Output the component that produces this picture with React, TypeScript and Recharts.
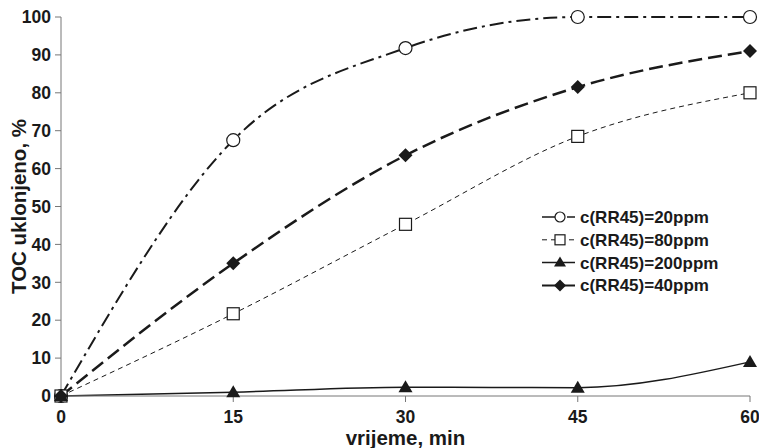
import React from 'react';
import { LineChart, Line, XAxis, YAxis } from 'recharts';

const times = [0, 15, 30, 45, 60];
const ppm20 = [0, 67.5, 91.8, 100, 100];
const ppm80 = [0, 21.7, 45.3, 68.5, 80];
const ppm200 = [0, 1.0, 2.3, 2.2, 9.0];
const ppm40 = [0, 35, 63.5, 81.5, 91];
const yTicks = [0, 10, 20, 30, 40, 50, 60, 70, 80, 90, 100];
const xTicks = [0, 15, 30, 45, 60];

const data = times.map((t, i) => ({ t, a: ppm20[i], b: ppm80[i], c: ppm200[i], d: ppm40[i] }));

const INK = '#1a1a1a';
const AXIS = '#777';
const FONT = 'Liberation Sans, Arial, sans-serif';

const Circle = (p: any) => <circle key={p.index} cx={p.cx} cy={p.cy} r={6.5} fill="#fff" stroke={INK} strokeWidth={1.2} />;
const Square = (p: any) => <rect key={p.index} x={p.cx - 6} y={p.cy - 6} width={12} height={12} fill="#fff" stroke={INK} strokeWidth={1.2} />;
const Tri = (p: any) => <path key={p.index} d={`M${p.cx},${p.cy - 7} L${p.cx + 7},${p.cy + 5} L${p.cx - 7},${p.cy + 5} Z`} fill={INK} />;
const Diamond = (p: any) => <path key={p.index} d={`M${p.cx},${p.cy - 7} L${p.cx + 7},${p.cy} L${p.cx},${p.cy + 7} L${p.cx - 7},${p.cy} Z`} fill={INK} />;

const legendItems = [
  { label: 'c(RR45)=20ppm', dash: '14 4 3 4', w: 1.5, m: 'circle' },
  { label: 'c(RR45)=80ppm', dash: '5 4', w: 1, m: 'square' },
  { label: 'c(RR45)=200ppm', dash: undefined, w: 1.5, m: 'tri' },
  { label: 'c(RR45)=40ppm', dash: undefined, w: 2, m: 'diamond' },
];

const LegendBox = () => (
  <svg width={215} height={100} style={{ position: 'absolute', left: 538, top: 205 }}>
    {legendItems.map((it, i) => {
      const y = 12 + i * 22.8;
      const cx = 22;
      return (
        <g key={i}>
          <line x1={4} x2={37} y1={y} y2={y} stroke={INK} strokeWidth={it.w} strokeDasharray={it.dash} />
          {it.m === 'circle' && <circle cx={cx} cy={y} r={5} fill="#fff" stroke={INK} strokeWidth={1.2} />}
          {it.m === 'square' && <rect x={cx - 5} y={y - 5} width={10} height={10} fill="#fff" stroke={INK} strokeWidth={1.2} />}
          {it.m === 'tri' && <path d={`M${cx},${y - 6} L${cx + 6},${y + 4} L${cx - 6},${y + 4} Z`} fill={INK} />}
          {it.m === 'diamond' && <path d={`M${cx},${y - 6} L${cx + 6},${y} L${cx},${y + 6} L${cx - 6},${y} Z`} fill={INK} />}
          <text x={42} y={y + 6} fontFamily={FONT} fontWeight="bold" fontSize={17} fill={INK}>{it.label}</text>
        </g>
      );
    })}
  </svg>
);

export default function App() {
  return (
    <div style={{ position: 'absolute', left: 0, top: 0, width: 759, height: 448, background: '#fff' }}>
      <LineChart width={759} height={448} data={data} margin={{ top: 17, right: 9, bottom: 0, left: 0 }}>
        <XAxis dataKey="t" type="number" domain={[0, 60]} ticks={xTicks} stroke={AXIS} tickSize={6} tickMargin={9}
          tick={{ fill: INK, fontFamily: FONT, fontWeight: 'bold', fontSize: 17.5 }} height={52}
          label={{ value: 'vrijeme, min', position: 'insideBottom', offset: 3, fill: INK, fontFamily: FONT, fontWeight: 'bold', fontSize: 20.5 } as any} />
        <XAxis xAxisId="top" orientation="top" type="number" domain={[0, 60]} tick={false} tickLine={false} stroke={AXIS} height={0} />
        <YAxis type="number" domain={[0, 100]} ticks={yTicks} stroke={AXIS} tickSize={6} tickMargin={4} width={61} interval={0}
          tick={{ fill: INK, fontFamily: FONT, fontWeight: 'bold', fontSize: 17.5 }}
          label={{ value: 'TOC uklonjeno, %', angle: -90, position: 'insideLeft', offset: 19, fill: INK, fontFamily: FONT, fontWeight: 'bold', fontSize: 20.5, style: { textAnchor: 'middle' } } as any} />
        <YAxis yAxisId="right" orientation="right" type="number" domain={[0, 100]} tick={false} tickLine={false} stroke={AXIS} width={0} />
        <Line dataKey="a" type="monotone" stroke={INK} strokeWidth={2} strokeDasharray="14 5 3 5" dot={Circle} isAnimationActive={false} />
        <Line dataKey="b" type="monotone" stroke={INK} strokeWidth={1} strokeDasharray="5 4" dot={Square} isAnimationActive={false} />
        <Line dataKey="c" type="monotone" stroke={INK} strokeWidth={1.5} dot={Tri} isAnimationActive={false} />
        <Line dataKey="d" type="monotone" stroke={INK} strokeWidth={2.5} strokeDasharray="14 6" dot={Diamond} isAnimationActive={false} />
      </LineChart>
      <LegendBox />
    </div>
  );
}
